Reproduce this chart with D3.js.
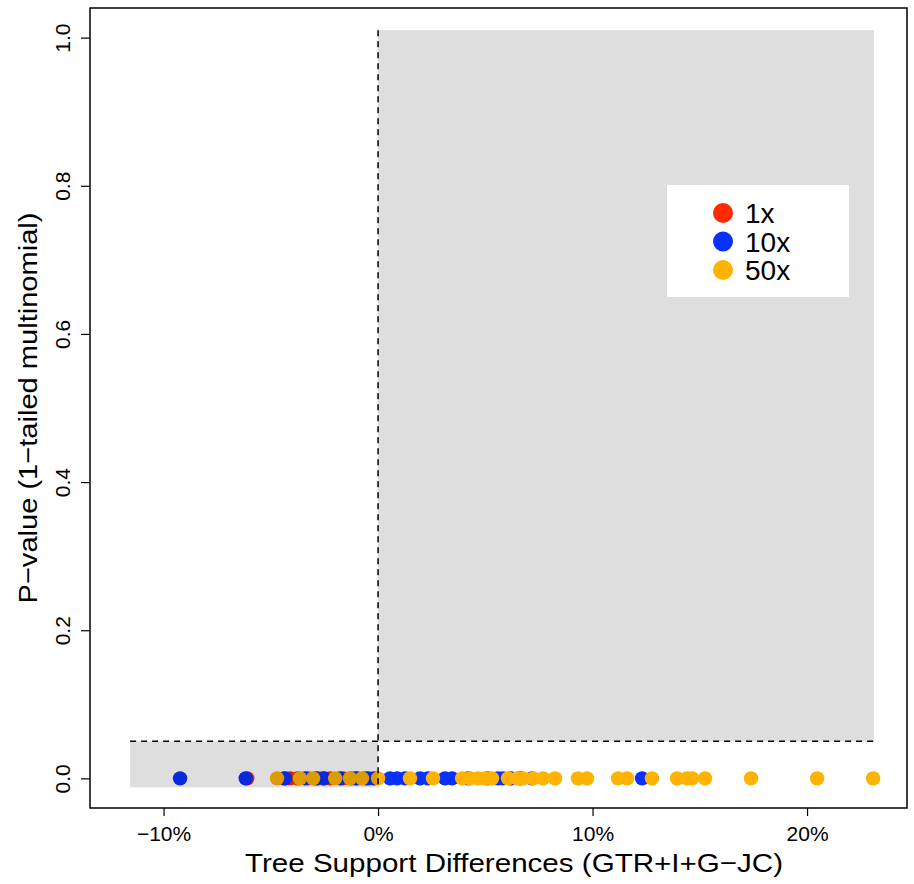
<!DOCTYPE html>
<html>
<head>
<meta charset="utf-8">
<script src="https://cdn.jsdelivr.net/npm/d3@7"></script>
<style>
  body { margin: 0; background: #fff; }
  svg { display: block; font-family: "Liberation Sans", Arial, Helvetica, sans-serif; }
</style>
</head>
<body>
<svg id="chart" width="914" height="884"></svg>
<script>
// tree support differences in percent, all p-values ~0
let red1x = [-6.1, -4.38, -4.10, -3.75, -3.26, -2.8, -2.56, -2.24, -1.63, -1.24, -0.98, -0.6];
let blue10x = [-9.23, -6.17, -4.34, -3.4, -2.9, -2.52, -1.77, -1.03, -0.47, -0.2, 0.56, 0.89, 1.26,
    1.96, 2.33, 3.12, 3.45, 4.2, 5.1, 5.59, 5.83, 6.2, 6.62, 7.18, 12.31];
let yellow50x = [-4.71, -3.64, -3.03, -2.00, -1.31, -0.75, 0.0, 1.49, 2.56, 3.92, 4.29, 4.66, 4.99, 5.31,
    6.06, 6.48, 6.76, 7.23, 7.69, 8.25, 9.32, 9.74, 11.19, 11.61, 12.77, 13.94, 14.41, 14.64, 15.24,
    17.39, 20.47, 23.08];
let pRed = red1x.map(() => 0), pBlue = blue10x.map(() => 0), pYellow = yellow50x.map(() => 0);

let series = [
    {name: '1x', color: '#ff2a00', x: red1x, p: pRed},
    {name: '10x', color: '#0a30ff', x: blue10x, p: pBlue},
    {name: '50x', color: '#ffb300', x: yellow50x, p: pYellow}
];
let xTicks = [-10, 0, 10, 20];
let yTicks = [0, 0.2, 0.4, 0.6, 0.8, 1.0];
let alpha = 0.05;

let svg = d3.select('#chart');
let plotLeft = 90, plotRight = 907, plotTop = 8, plotBottom = 808;

let x = d3.scaleLinear().domain([-13.43, 24.66]).range([plotLeft, plotRight]);
let y = d3.scaleLinear().domain([-0.04, 1.04]).range([plotBottom, plotTop]);

// points
series.forEach(function(s) {
    svg.append('g')
        .selectAll('circle')
        .data(s.x)
        .join('circle')
        .attr('cx', d => x(d))
        .attr('cy', (d, i) => y(s.p[i]))
        .attr('r', 7.2)
        .attr('fill', s.color);
});

// shaded regions drawn on top
svg.append('rect')
    .attr('x', x(-11.56)).attr('y', y(alpha))
    .attr('width', x(0) - x(-11.56)).attr('height', y(-0.0122) - y(alpha))
    .attr('fill', 'rgba(0,0,0,0.13)');
svg.append('rect')
    .attr('x', x(0)).attr('y', y(1.01))
    .attr('width', x(23.12) - x(0)).attr('height', y(alpha) - y(1.01))
    .attr('fill', 'rgba(0,0,0,0.13)');

// dashed lines
svg.append('line')
    .attr('x1', x(-11.56)).attr('x2', x(23.12))
    .attr('y1', y(alpha)).attr('y2', y(alpha))
    .attr('stroke', '#000').attr('stroke-width', 1.5).attr('stroke-dasharray', '6,5');
svg.append('line')
    .attr('x1', x(0)).attr('x2', x(0))
    .attr('y1', y(1.01)).attr('y2', y(-0.0122))
    .attr('stroke', '#000').attr('stroke-width', 1.5).attr('stroke-dasharray', '6,5');

// box
svg.append('rect')
    .attr('x', plotLeft).attr('y', plotTop)
    .attr('width', plotRight - plotLeft).attr('height', plotBottom - plotTop)
    .attr('fill', 'none').attr('stroke', '#000').attr('stroke-width', 1.5);

// x axis
let xAxis = svg.append('g')
    .attr('transform', `translate(0,${plotBottom})`)
    .call(d3.axisBottom(x).tickValues(xTicks).tickSize(8).tickPadding(10)
        .tickFormat(d => d3.format('d')(d) + '%'));
xAxis.select('.domain').remove();
xAxis.selectAll('line').attr('stroke-width', 1.2);
xAxis.selectAll('text').attr('font-size', 21).attr('fill', '#000')
    .attr('font-family', '"Liberation Sans", Arial, sans-serif');

// y axis
let yAxis = svg.append('g')
    .attr('transform', `translate(${plotLeft},0)`)
    .call(d3.axisLeft(y).tickValues(yTicks).tickSize(9).tickFormat(d3.format('.1f')));
yAxis.select('.domain').remove();
yAxis.selectAll('line').attr('stroke-width', 1.2);
yAxis.selectAll('text')
    .attr('font-size', 21).attr('fill', '#000')
    .attr('font-family', '"Liberation Sans", Arial, sans-serif')
    .attr('x', null).attr('dy', null)
    .attr('text-anchor', 'middle')
    .attr('transform', 'translate(-20,0) rotate(-90)');

// axis titles
svg.append('text')
    .attr('x', 514).attr('y', 872)
    .attr('text-anchor', 'middle')
    .attr('font-size', 26)
    .attr('textLength', 538).attr('lengthAdjust', 'spacingAndGlyphs')
    .text('Tree Support Differences (GTR+I+G\u2212JC)');
svg.append('text')
    .attr('transform', 'translate(37,408) rotate(-90)')
    .attr('text-anchor', 'middle')
    .attr('font-size', 26)
    .attr('textLength', 391).attr('lengthAdjust', 'spacingAndGlyphs')
    .text('P\u2212value (1\u2212tailed multinomial)');

// legend
let legend = svg.append('g');
legend.append('rect')
    .attr('x', 667).attr('y', 185).attr('width', 182).attr('height', 112)
    .attr('fill', '#fff');
let rows = legend.selectAll('g.row')
    .data(series)
    .join('g')
    .attr('class', 'row')
    .attr('transform', (d, i) => `translate(723,${213 + i * 28.5})`);
rows.append('circle').attr('r', 10).attr('fill', d => d.color);
rows.append('text')
    .attr('x', 22).attr('y', 10)
    .attr('font-size', 28)
    .text(d => d.name);
</script>
</body>
</html>
